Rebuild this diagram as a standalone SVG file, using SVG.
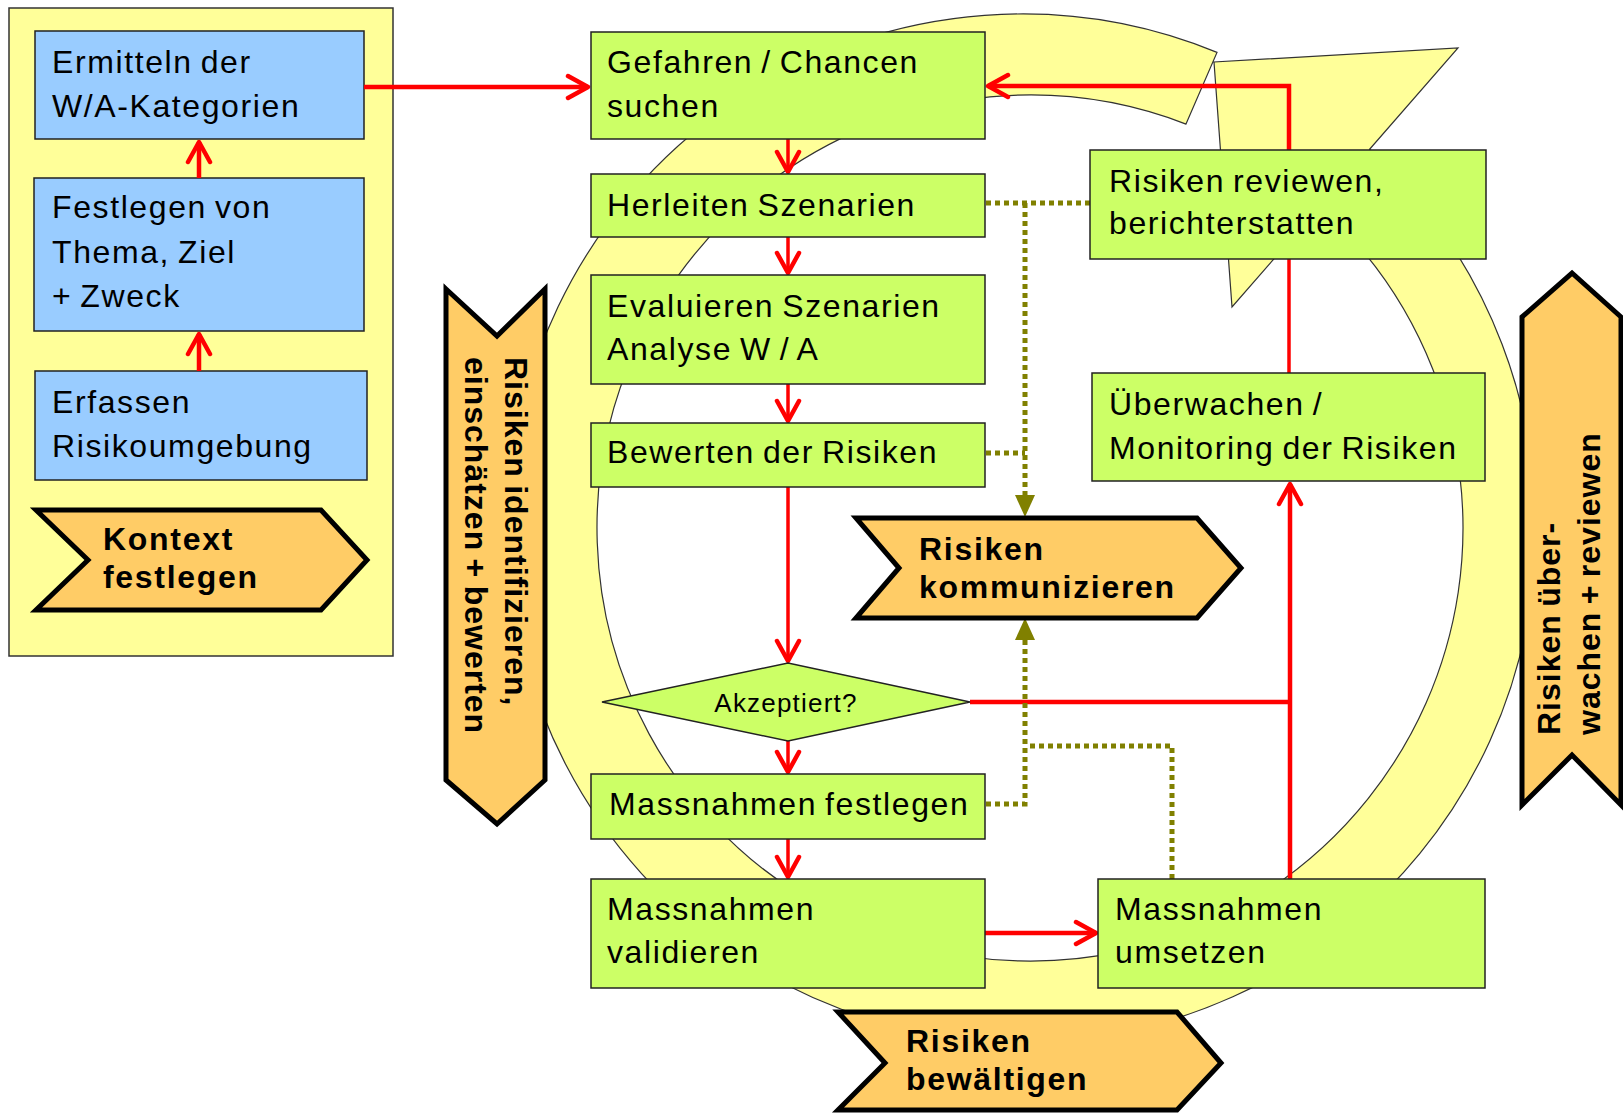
<svg xmlns="http://www.w3.org/2000/svg" width="1623" height="1114" viewBox="0 0 1623 1114">
  <style>
    .t { font-family: "Liberation Sans", Arial, sans-serif; font-size: 32px; letter-spacing: 1.6px; word-spacing: -2.5px; fill: #000; }
    .b { font-weight: bold; letter-spacing: 1.7px; }
    .rot { font-weight: bold; letter-spacing: 1px; }
    .small { font-size: 26px; letter-spacing: 1.2px; }
    .box { fill: #CCFF66; stroke: #222; stroke-width: 1.5; }
    .blue { fill: #99CCFF; stroke: #222; stroke-width: 1.5; }
    .chev { fill: #FFCC66; stroke: #000; stroke-width: 5; stroke-linejoin: miter; }
    .red { fill: none; stroke: #FF0000; stroke-width: 4.5; }
    .redthin { fill: none; stroke: #FF0000; stroke-width: 3.5; }
    .dot { fill: none; stroke: #808000; stroke-width: 5; stroke-dasharray: 5 4; }
  </style>
  <defs>
    <marker id="openArrow" markerUnits="userSpaceOnUse" viewBox="-24 -14 28 28" markerWidth="28" markerHeight="28" refX="0" refY="0" orient="auto">
      <path d="M-20,-11 L0,0 L-20,11" fill="none" stroke="#FF0000" stroke-width="4.5" stroke-linejoin="round" stroke-linecap="round"/>
    </marker>
    <marker id="oliveArrow" markerUnits="userSpaceOnUse" viewBox="0 -11 22 22" markerWidth="22" markerHeight="22" refX="0" refY="0" orient="auto">
      <path d="M0,-10 L22,0 L0,10 Z" fill="#808000"/>
    </marker>
  </defs>

  <rect width="1623" height="1114" fill="#FFFFFF"/>

  <!-- circular arrow ring behind the process -->
  <g id="ring">
    <path d="M1217,52.4 A514,514 0 1 0 1369.6,149.3 L1458,48 L1214,62 L1232,307 L1319.8,206.3 A433,433 0 1 1 1186,124.1 Z" fill="#FFFF99" stroke="#333" stroke-width="1.2" stroke-linejoin="miter"/>
  </g>

  <!-- context panel -->
  <g id="context-panel">
    <rect x="9" y="8" width="384" height="648" fill="#FFFF99" stroke="#333" stroke-width="1.5"/>
  </g>

  <g id="ermitteln">
    <rect class="blue" x="35" y="31" width="329" height="108"/>
    <text class="t" x="52" y="73">Ermitteln der</text>
    <text class="t" x="52" y="117">W/A-Kategorien</text>
  </g>
  <g id="festlegen-thema">
    <rect class="blue" x="34" y="178" width="330" height="153"/>
    <text class="t" x="52" y="218">Festlegen von</text>
    <text class="t" x="52" y="263">Thema, Ziel</text>
    <text class="t" x="52" y="307">+ Zweck</text>
  </g>
  <g id="erfassen">
    <rect class="blue" x="35" y="371" width="332" height="109"/>
    <text class="t" x="52" y="413">Erfassen</text>
    <text class="t" x="52" y="457">Risikoumgebung</text>
  </g>
  <g id="kontext">
    <polygon class="chev" points="36,510 321,510 367,560 321,610 36,610 88,560"/>
    <text class="t b" x="103" y="550">Kontext</text>
    <text class="t b" x="103" y="588">festlegen</text>
  </g>

  <!-- connectors -->
  <g id="connectors">
    <path class="red" d="M199,371 V334" marker-end="url(#openArrow)"/>
    <path class="red" d="M199,178 V142" marker-end="url(#openArrow)"/>
    <path class="red" d="M364,87 H588" marker-end="url(#openArrow)"/>

    <path class="redthin" d="M788,139 V172" marker-end="url(#openArrow)"/>
    <path class="redthin" d="M788,237 V273" marker-end="url(#openArrow)"/>
    <path class="redthin" d="M788,384 V421" marker-end="url(#openArrow)"/>
    <path class="redthin" d="M788,487 V661" marker-end="url(#openArrow)"/>
    <path class="redthin" d="M788,741 V772" marker-end="url(#openArrow)"/>
    <path class="redthin" d="M788,839 V877" marker-end="url(#openArrow)"/>
    <path class="red" d="M985,933 H1096" marker-end="url(#openArrow)"/>
    <path class="red" d="M1290,879 V484" marker-end="url(#openArrow)"/>
    <path class="red" d="M970,702 H1290"/>
    <path class="redthin" d="M1289,373 V259"/>
    <path class="red" d="M1289,150 V86 H988" marker-end="url(#openArrow)"/>

    <path class="dot" d="M986,203 H1090"/>
    <path class="dot" d="M1025,203 V495" marker-end="url(#oliveArrow)"/>
    <path class="dot" d="M986,453 H1025"/>
    <path class="dot" d="M986,804 H1025 V640" marker-end="url(#oliveArrow)"/>
    <path class="dot" d="M1172,879 V746 H1029"/>
  </g>

  <!-- process steps -->
  <g id="gefahren">
    <rect class="box" x="591" y="32" width="394" height="107"/>
    <text class="t" x="607" y="73">Gefahren / Chancen</text>
    <text class="t" x="607" y="117">suchen</text>
  </g>
  <g id="herleiten">
    <rect class="box" x="591" y="174" width="394" height="63"/>
    <text class="t" x="607" y="216">Herleiten Szenarien</text>
  </g>
  <g id="evaluieren">
    <rect class="box" x="591" y="275" width="394" height="109"/>
    <text class="t" x="607" y="317">Evaluieren Szenarien</text>
    <text class="t" x="607" y="360">Analyse W / A</text>
  </g>
  <g id="bewerten">
    <rect class="box" x="591" y="423" width="394" height="64"/>
    <text class="t" x="607" y="463">Bewerten der Risiken</text>
  </g>
  <g id="akzeptiert">
    <polygon class="box" points="602,702 788,663 970,702 788,741"/>
    <text class="t small" x="786" y="712" text-anchor="middle">Akzeptiert?</text>
  </g>
  <g id="massnahmen-festlegen">
    <rect class="box" x="591" y="774" width="394" height="65"/>
    <text class="t" x="609" y="815">Massnahmen festlegen</text>
  </g>
  <g id="massnahmen-validieren">
    <rect class="box" x="591" y="879" width="394" height="109"/>
    <text class="t" x="607" y="920">Massnahmen</text>
    <text class="t" x="607" y="963">validieren</text>
  </g>
  <g id="massnahmen-umsetzen">
    <rect class="box" x="1098" y="879" width="387" height="109"/>
    <text class="t" x="1115" y="920">Massnahmen</text>
    <text class="t" x="1115" y="963">umsetzen</text>
  </g>
  <g id="ueberwachen">
    <rect class="box" x="1092" y="373" width="393" height="108"/>
    <text class="t" x="1109" y="415">Überwachen /</text>
    <text class="t" x="1109" y="459">Monitoring der Risiken</text>
  </g>
  <g id="reviewen">
    <rect class="box" x="1090" y="150" width="396" height="109"/>
    <text class="t" x="1109" y="192">Risiken reviewen,</text>
    <text class="t" x="1109" y="234">berichterstatten</text>
  </g>

  <!-- phase chevrons -->
  <g id="kommunizieren">
    <polygon class="chev" points="856,518 1197,518 1241,568 1197,618 856,618 899,568"/>
    <text class="t b" x="919" y="560">Risiken</text>
    <text class="t b" x="919" y="598">kommunizieren</text>
  </g>
  <g id="bewaeltigen">
    <polygon class="chev" points="838,1012 1177,1012 1221,1063 1177,1110 838,1110 885,1063"/>
    <text class="t b" x="906" y="1052">Risiken</text>
    <text class="t b" x="906" y="1090">bewältigen</text>
  </g>
  <g id="identifizieren">
    <polygon class="chev" points="446,289 497,336 545,289 545,780 497,824 446,780"/>
    <text class="t rot" transform="translate(505,357) rotate(90)">Risiken identifizieren,</text>
    <text class="t rot" transform="translate(465,357) rotate(90)">einschätzen + bewerten</text>
  </g>
  <g id="ueberwachen-reviewen">
    <polygon class="chev" points="1522,317 1572,273 1621,317 1621,805 1572,755 1522,805"/>
    <text class="t rot" transform="translate(1560,735) rotate(-90)">Risiken über-</text>
    <text class="t rot" transform="translate(1600,735) rotate(-90)">wachen + reviewen</text>
  </g>
</svg>
